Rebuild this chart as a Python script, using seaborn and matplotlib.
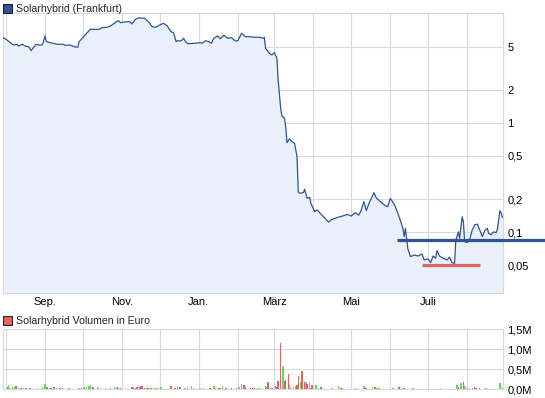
import pandas as pd
import seaborn as sns
import matplotlib
matplotlib.use("Agg")
import matplotlib.pyplot as plt
import matplotlib.dates as mdates
from matplotlib.patches import Rectangle
from matplotlib.ticker import FixedLocator, FuncFormatter, NullLocator

# Kurs Solarhybrid (Frankfurt), in Euro
price_dates = [
    "2011-07-29", "2011-08-01", "2011-08-04", "2011-08-07", "2011-08-10", "2011-08-11",
    "2011-08-14", "2011-08-16", "2011-08-19", "2011-08-21", "2011-08-23", "2011-08-25",
    "2011-08-28", "2011-08-30", "2011-09-01", "2011-09-02", "2011-09-05", "2011-09-07",
    "2011-09-11", "2011-09-15", "2011-09-17", "2011-09-21", "2011-09-24", "2011-09-27",
    "2011-09-28", "2011-10-01", "2011-10-04", "2011-10-07", "2011-10-14", "2011-10-16",
    "2011-10-20", "2011-10-23", "2011-10-26", "2011-10-29", "2011-10-31", "2011-11-03",
    "2011-11-07", "2011-11-09", "2011-11-12", "2011-11-14", "2011-11-19", "2011-11-22",
    "2011-11-25", "2011-11-28", "2011-11-30", "2011-12-04", "2011-12-07", "2011-12-10",
    "2011-12-12", "2011-12-14", "2011-12-15", "2011-12-18", "2011-12-20", "2011-12-21",
    "2011-12-23", "2011-12-29", "2012-01-02", "2012-01-04", "2012-01-06", "2012-01-09",
    "2012-01-11", "2012-01-13", "2012-01-16", "2012-01-18", "2012-01-21", "2012-01-24",
    "2012-01-27", "2012-01-30", "2012-02-01", "2012-02-04", "2012-02-07", "2012-02-11",
    "2012-02-13", "2012-02-18", "2012-02-21", "2012-02-22", "2012-02-23", "2012-02-26",
    "2012-02-28", "2012-03-01", "2012-03-03", "2012-03-04", "2012-03-06", "2012-03-07",
    "2012-03-09", "2012-03-10", "2012-03-11", "2012-03-13", "2012-03-15", "2012-03-17",
    "2012-03-19", "2012-03-20", "2012-03-21", "2012-03-24", "2012-03-25", "2012-03-27",
    "2012-03-29", "2012-03-30", "2012-04-02", "2012-04-04", "2012-04-06", "2012-04-09",
    "2012-04-13", "2012-04-15", "2012-04-20", "2012-04-24", "2012-04-28", "2012-05-01",
    "2012-05-04", "2012-05-07", "2012-05-09", "2012-05-11", "2012-05-13", "2012-05-15",
    "2012-05-17", "2012-05-19", "2012-05-21", "2012-05-25", "2012-05-28", "2012-05-30",
    "2012-06-01", "2012-06-04", "2012-06-05", "2012-06-08", "2012-06-11", "2012-06-12",
    "2012-06-13", "2012-06-15", "2012-06-17", "2012-06-20", "2012-06-23", "2012-06-26",
    "2012-06-28", "2012-07-01", "2012-07-03", "2012-07-05", "2012-07-07", "2012-07-08",
    "2012-07-10", "2012-07-13", "2012-07-16", "2012-07-18", "2012-07-20", "2012-07-22",
    "2012-07-23", "2012-07-25", "2012-07-26", "2012-07-28", "2012-07-29", "2012-07-30",
    "2012-08-01", "2012-08-03", "2012-08-05", "2012-08-07", "2012-08-09", "2012-08-11",
    "2012-08-13", "2012-08-15", "2012-08-17", "2012-08-18", "2012-08-20", "2012-08-22",
    "2012-08-24", "2012-08-25", "2012-08-26", "2012-08-27", "2012-08-28", "2012-08-29",
]
price_values = [
    6.10, 5.84, 5.49, 5.18, 5.26, 5.07,
    5.26, 5.07, 5.00, 4.60, 4.94, 5.26,
    5.15, 5.21, 6.27, 5.56, 5.44, 5.37,
    5.26, 5.26, 5.15, 5.18, 5.00, 4.94,
    5.56, 6.04, 6.63, 7.21, 7.21, 7.46,
    7.52, 7.73, 8.19, 8.65, 8.29, 8.42,
    8.47, 8.07, 8.96, 9.15, 9.10, 8.47,
    7.62, 7.52, 7.78, 8.19, 7.73, 6.86,
    6.72, 5.56, 5.67, 5.64, 5.97, 5.67,
    5.33, 5.37, 5.44, 5.37, 5.67, 5.56,
    5.37, 5.97, 6.27, 5.92, 6.36, 5.97,
    6.04, 5.64, 5.67, 6.63, 6.17, 6.17,
    6.10, 6.10, 5.97, 6.10, 4.83, 4.35,
    4.20, 4.41, 3.92, 2.48, 1.37, 1.16,
    1.11, 0.927, 0.662, 0.716, 0.676, 0.653,
    0.493, 0.233, 0.228, 0.231, 0.248, 0.205,
    0.209, 0.184, 0.155, 0.160, 0.151, 0.139,
    0.124, 0.130, 0.137, 0.141, 0.146, 0.141,
    0.151, 0.144, 0.160, 0.191, 0.158, 0.184,
    0.205, 0.231, 0.205, 0.187, 0.175, 0.172,
    0.205, 0.182, 0.172, 0.139, 0.109, 0.0914,
    0.109, 0.070, 0.060, 0.0621, 0.0608, 0.0634,
    0.056, 0.0572, 0.0529, 0.0608, 0.058, 0.068,
    0.0608, 0.058, 0.056, 0.0592, 0.0529, 0.0521,
    0.0851, 0.101, 0.0883, 0.139, 0.125, 0.0822,
    0.0805, 0.0865, 0.105, 0.117, 0.119, 0.105,
    0.0914, 0.104, 0.109, 0.098, 0.095, 0.101,
    0.0995, 0.107, 0.130, 0.158, 0.150, 0.137,
]

# Umsatz in Tausend Euro; u = Kurs gestiegen, d = gefallen, n = unveraendert
vol_dates = [
    "2011-08-02", "2011-08-03", "2011-08-04", "2011-08-06", "2011-08-08", "2011-08-09",
    "2011-08-11", "2011-08-13", "2011-08-15", "2011-08-17", "2011-08-20", "2011-08-26",
    "2011-08-30", "2011-09-01", "2011-09-02", "2011-09-03", "2011-09-05", "2011-09-06",
    "2011-09-08", "2011-09-10", "2011-09-13", "2011-09-15", "2011-09-20", "2011-09-28",
    "2011-09-30", "2011-10-02", "2011-10-04", "2011-10-06", "2011-10-07", "2011-10-09",
    "2011-10-13", "2011-10-15", "2011-10-19", "2011-10-23", "2011-10-26", "2011-10-28",
    "2011-10-29", "2011-10-31", "2011-11-09", "2011-11-10", "2011-11-12", "2011-11-13",
    "2011-11-15", "2011-11-16", "2011-11-17", "2011-11-19", "2011-11-21", "2011-11-22",
    "2011-11-24", "2011-11-27", "2011-11-28", "2011-11-30", "2011-12-02", "2011-12-10",
    "2011-12-13", "2011-12-15", "2011-12-17", "2011-12-21", "2011-12-23", "2011-12-26",
    "2011-12-28", "2012-01-02", "2012-01-05", "2012-01-10", "2012-01-13", "2012-01-14",
    "2012-01-17", "2012-01-18", "2012-01-20", "2012-01-22", "2012-01-23", "2012-01-27",
    "2012-01-31", "2012-02-02", "2012-02-04", "2012-02-06", "2012-02-07", "2012-02-11",
    "2012-02-13", "2012-02-14", "2012-02-17", "2012-02-19", "2012-02-23", "2012-02-24",
    "2012-02-25", "2012-02-27", "2012-02-28", "2012-03-02", "2012-03-03", "2012-03-04",
    "2012-03-06", "2012-03-08", "2012-03-09", "2012-03-10", "2012-03-12", "2012-03-13",
    "2012-03-14", "2012-03-16", "2012-03-18", "2012-03-19", "2012-03-20", "2012-03-22",
    "2012-03-23", "2012-03-25", "2012-03-26", "2012-03-27", "2012-03-29", "2012-03-30",
    "2012-03-31", "2012-04-03", "2012-04-05", "2012-04-07", "2012-04-16", "2012-04-21",
    "2012-04-23", "2012-04-24", "2012-05-04", "2012-05-11", "2012-05-12", "2012-05-13",
    "2012-05-18", "2012-05-20", "2012-05-21", "2012-05-23", "2012-06-03", "2012-06-08",
    "2012-06-10", "2012-06-12", "2012-06-19", "2012-07-11", "2012-07-24", "2012-07-25",
    "2012-07-27", "2012-07-29", "2012-07-30", "2012-08-01", "2012-08-03", "2012-08-05",
    "2012-08-07", "2012-08-08", "2012-08-11", "2012-08-16", "2012-08-27", "2012-08-29",
]
vol_keur = [
    50, 100, 42, 58, 58, 75,
    25, 25, 25, 25, 25, 25,
    50, 125, 58, 58, 33, 33,
    50, 33, 25, 25, 25, 25,
    42, 50, 50, 75, 100, 50,
    50, 25, 25, 25, 50, 67,
    25, 25, 50, 67, 25, 50,
    50, 75, 75, 25, 25, 25,
    42, 25, 25, 25, 50, 75,
    25, 75, 50, 25, 25, 75,
    25, 25, 25, 25, 75, 25,
    25, 25, 75, 25, 25, 25,
    25, 58, 142, 117, 50, 25,
    25, 25, 25, 25, 92, 67,
    175, 25, 25, 75, 50, 200,
    1150, 575, 200, 225, 375, 117,
    25, 50, 75, 100, 325, 175,
    450, 175, 175, 125, 175, 25,
    100, 100, 25, 50, 25, 75,
    25, 25, 25, 75, 25, 25,
    50, 50, 25, 25, 25, 50,
    25, 25, 25, 25, 100, 50,
    150, 175, 75, 25, 25, 25,
    50, 25, 25, 25, 150, 25,
]
vol_dir = [
    "d", "u", "d", "d", "u", "d",
    "u", "d", "u", "d", "d", "u",
    "u", "u", "d", "d", "u", "d",
    "d", "u", "d", "d", "u", "u",
    "d", "u", "d", "u", "u", "d",
    "n", "u", "u", "d", "u", "u",
    "d", "d", "d", "u", "d", "d",
    "d", "d", "d", "d", "d", "d",
    "d", "u", "u", "d", "u", "d",
    "d", "u", "d", "u", "d", "u",
    "u", "u", "u", "d", "u", "u",
    "d", "d", "u", "d", "d", "d",
    "d", "u", "u", "d", "d", "d",
    "d", "d", "u", "u", "d", "u",
    "d", "u", "d", "d", "d", "d",
    "d", "u", "d", "d", "d", "u",
    "d", "u", "u", "d", "d", "u",
    "d", "d", "u", "d", "u", "d",
    "d", "u", "u", "d", "d", "u",
    "d", "u", "n", "u", "d", "d",
    "u", "d", "d", "d", "u", "d",
    "d", "d", "u", "n", "u", "d",
    "u", "d", "d", "u", "u", "u",
    "d", "d", "d", "u", "u", "d",
]

# eingezeichnete Widerstands- und Unterstuetzungslinie
resistance_level = 0.085
resistance_span = ["2012-06-06", "2012-10-05"]
support_level = 0.05
support_span = ["2012-06-26", "2012-08-11"]

x_range = ["2011-07-29 12:00", "2012-08-29 16:00"]
month_names = {9: "Sep.", 11: "Nov.", 1: "Jan.", 3: "März", 5: "Mai", 7: "Juli"}

LINE = "#2d5593"
FILL = "#e9f0fa"
GRID = "#d9d9d9"
RED = "#e06464"
GREEN = "#64d864"
GRAY = "#bcbcbc"

sns.set_style("white")
plt.rcParams["font.family"] = ["Liberation Sans", "DejaVu Sans"]

price = pd.DataFrame({"date": pd.to_datetime(price_dates), "kurs": price_values})
vol = pd.DataFrame({"date": pd.to_datetime(vol_dates), "umsatz": vol_keur, "dir": vol_dir})
xlim = pd.to_datetime(x_range)

fig = plt.figure(figsize=(5.45, 3.98), dpi=100)
ax = fig.add_axes([2.8 / 545, 1 - 293.3 / 398, 500.5 / 545, 280 / 398])
axv = fig.add_axes([2.8 / 545, 1 - 389.3 / 398, 500.5 / 545, 60 / 398])

# Kurschart
ax.set_yscale("log")
ax.set_ylim(0.0277, 10.1)
ax.set_xlim(xlim)
ax.fill_between(price["date"], price["kurs"], 0.0277, color=FILL, lw=0, zorder=1)
sns.lineplot(data=price, x="date", y="kurs", ax=ax, color=LINE, lw=0.9, zorder=3)
ax.plot(pd.to_datetime(resistance_span), [resistance_level] * 2, color=LINE,
        lw=2.3, solid_capstyle="butt", clip_on=False, zorder=5)
ax.plot(pd.to_datetime(support_span), [support_level] * 2, color=RED,
        lw=2.3, solid_capstyle="butt", zorder=5)

ax.yaxis.set_major_locator(FixedLocator([0.05, 0.1, 0.2, 0.5, 1, 2, 5]))
ax.yaxis.set_minor_locator(NullLocator())
ax.yaxis.set_major_formatter(FuncFormatter(lambda v, p: f"{v:g}".replace(".", ",")))

# Volumenchart
colors = vol["dir"].map({"u": GREEN, "d": RED, "n": GRAY})
axv.bar(vol["date"], vol["umsatz"] * 1000, width=1.1, color=colors, lw=0,
        antialiased=False, zorder=3)
axv.set_xlim(xlim)
axv.set_ylim(0, 1.5e6)
axv.yaxis.set_major_locator(FixedLocator([0, 0.5e6, 1.0e6, 1.5e6]))
axv.yaxis.set_major_formatter(FuncFormatter(lambda v, p: f"{v / 1e6:.1f}M".replace(".", ",")))

for a in (ax, axv):
    a.set_xlabel("")
    a.set_ylabel("")
    a.xaxis.set_major_locator(mdates.MonthLocator())
    a.grid(True, color=GRID, lw=0.8, zorder=0)
    a.set_axisbelow(True)
    a.yaxis.tick_right()
    a.tick_params(length=0, labelsize=8, pad=3, colors="black")
    for s in a.spines.values():
        s.set_color(GRID)
        s.set_linewidth(0.8)

ax.xaxis.set_major_formatter(FuncFormatter(
    lambda v, p: month_names.get(mdates.num2date(v).month, "")))
axv.xaxis.set_major_formatter(FuncFormatter(lambda v, p: ""))

# Legenden
fig.add_artist(Rectangle((3 / 545, 1 - 13 / 398), 9 / 545, 9 / 398,
                         facecolor=LINE, edgecolor="black", lw=0.6))
fig.text(16 / 545, 1 - 8.5 / 398, "Solarhybrid (Frankfurt)", fontsize=7.6, va="center")
fig.add_artist(Rectangle((3 / 545, 1 - 325 / 398), 9 / 545, 9 / 398,
                         facecolor=RED, edgecolor="black", lw=0.6))
fig.text(16 / 545, 1 - 320.5 / 398, "Solarhybrid Volumen in Euro", fontsize=7.6, va="center")

fig.savefig("out.png", dpi=100)
